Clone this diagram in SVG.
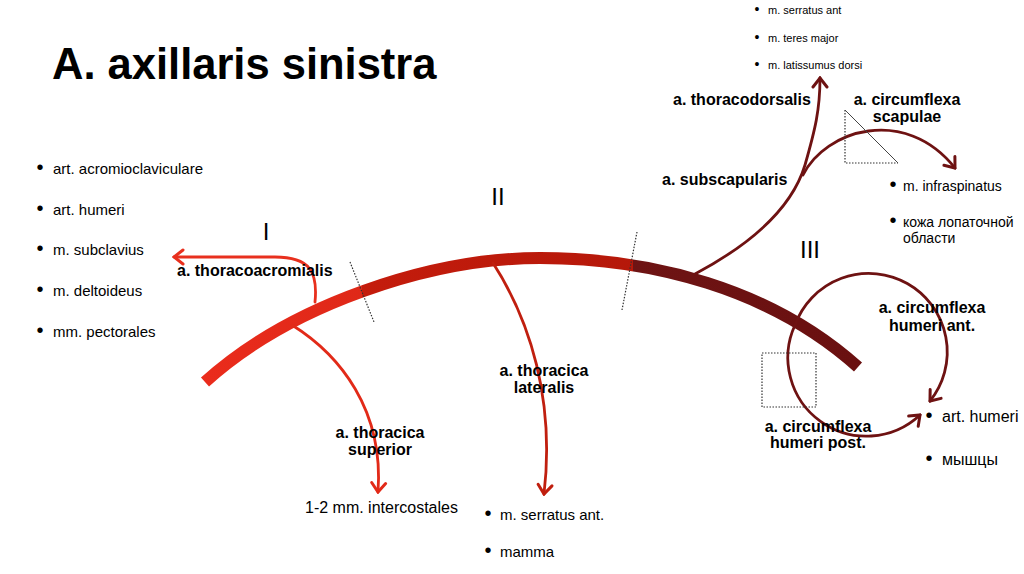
<svg xmlns="http://www.w3.org/2000/svg" width="1024" height="574" viewBox="0 0 1024 574">
<style>
  text { font-family: "Liberation Sans", Arial, Helvetica, sans-serif; fill: #000; }
  .title { font-size: 43.5px; font-weight: bold; }
  .lbl { font-size: 16px; font-weight: bold; text-anchor: middle; }
  .lbll { font-size: 16px; font-weight: bold; }
  .li { font-size: 15px; }
  .li16 { font-size: 16px; }
  .li14 { font-size: 14px; }
  .li11 { font-size: 11px; }
  .bu { font-size: 20px; text-anchor: middle; }
  .bu11 { font-size: 14px; text-anchor: middle; }
  .num { font-size: 24px; text-anchor: middle; }
  .br { fill: none; stroke-width: 2.8; stroke-linecap: round; }
  .red1 { stroke: #e8301e; }
  .red2 { stroke: #e22a18; }
  .red3 { stroke: #c01f0f; }
  .mar { stroke: #6e1212; }
  .div { fill: none; stroke: #333; stroke-width: 1.2; stroke-dasharray: 1.5 1.5; }
</style>
<defs>
  <linearGradient id="artGrad" gradientUnits="userSpaceOnUse" x1="205" y1="0" x2="858" y2="0">
    <stop offset="0" stop-color="#ea2c1c"/>
    <stop offset="0.24" stop-color="#df2818"/>
    <stop offset="0.241" stop-color="#c41c0c"/>
    <stop offset="0.655" stop-color="#b5180a"/>
    <stop offset="0.656" stop-color="#6e1414"/>
    <stop offset="1" stop-color="#6a1010"/>
  </linearGradient>
  <marker id="ahRed1" markerUnits="userSpaceOnUse" viewBox="-12 -10 14 20" refX="0" refY="0" markerWidth="14" markerHeight="20" orient="auto">
    <path d="M-9,-7 L0,0 L-9,7" fill="none" stroke="#e8301e" stroke-width="3" stroke-linecap="round"/>
  </marker>
  <marker id="ahRed2" markerUnits="userSpaceOnUse" viewBox="-12 -10 14 20" refX="0" refY="0" markerWidth="14" markerHeight="20" orient="auto">
    <path d="M-9,-7 L0,0 L-9,7" fill="none" stroke="#e22a18" stroke-width="3" stroke-linecap="round"/>
  </marker>
  <marker id="ahRed3" markerUnits="userSpaceOnUse" viewBox="-12 -10 14 20" refX="0" refY="0" markerWidth="14" markerHeight="20" orient="auto">
    <path d="M-9,-7 L0,0 L-9,7" fill="none" stroke="#c01f0f" stroke-width="3" stroke-linecap="round"/>
  </marker>
  <marker id="ahMar" markerUnits="userSpaceOnUse" viewBox="-12 -10 14 20" refX="0" refY="0" markerWidth="14" markerHeight="20" orient="auto">
    <path d="M-9,-7 L0,0 L-9,7" fill="none" stroke="#6e1212" stroke-width="3" stroke-linecap="round"/>
  </marker>
</defs>
<rect width="1024" height="574" fill="#fff"/>

<text class="title" x="52" y="79">A. axillaris sinistra</text>

<g id="connectors">
  <path id="main-artery" d="M205,382 C290,305 430,258 540,258 C650,258 770,288 858,367" fill="none" stroke="url(#artGrad)" stroke-width="12"/>
  <path class="br red1" d="M315,302 C318,272 310,257 275,257 L174,257" marker-end="url(#ahRed1)"/>
  <path class="br red2" d="M292,325 C340,355 384,410 378,492" marker-end="url(#ahRed2)"/>
  <path class="br red3" d="M493,263 C530,320 555,400 544,494" marker-end="url(#ahRed3)"/>
  <path class="br mar" d="M695,274 C740,250 790,215 805,165 C815,130 820,110 820,78" marker-end="url(#ahMar)"/>
  <path class="br mar" d="M803,175 C825,130 905,105 955,168" marker-end="url(#ahMar)"/>
  <path class="br mar" d="M795,325 A78.5,78.5 0 1 1 930,401" marker-end="url(#ahMar)"/>
  <path class="br mar" d="M795,325 A78.5,78.5 0 0 0 920,415" marker-end="url(#ahMar)"/>
</g>

<g id="dividers">
  <line class="div" x1="350" y1="262" x2="374" y2="322"/>
  <line class="div" x1="637" y1="232" x2="622" y2="310"/>
  <path class="div" d="M845,110 L845,163 L898,163"/>
  <line x1="845" y1="110" x2="898" y2="163" stroke="#444" stroke-width="1"/>
  <rect class="div" x="762" y="353" width="54" height="54"/>
</g>

<g id="section-numbers">
  <text class="num" x="266" y="240">I</text>
  <text class="num" x="498" y="205">II</text>
  <text class="num" x="810" y="258">III</text>
</g>

<g id="node-thoracoacromialis">
  <text class="lbll" x="177" y="276">a. thoracoacromialis</text>
  <text class="bu" x="40" y="174">•</text><text class="li" x="53" y="174">art. acromioclaviculare</text>
  <text class="bu" x="40" y="215">•</text><text class="li" x="53" y="215">art. humeri</text>
  <text class="bu" x="40" y="255">•</text><text class="li" x="53" y="255">m. subclavius</text>
  <text class="bu" x="40" y="296">•</text><text class="li" x="53" y="296">m. deltoideus</text>
  <text class="bu" x="40" y="337">•</text><text class="li" x="53" y="337">mm. pectorales</text>
</g>

<g id="node-thoracica-superior">
  <text class="lbl" x="380" y="438">a. thoracica</text>
  <text class="lbl" x="380" y="455">superior</text>
  <text class="li16" x="305" y="513">1-2 mm. intercostales</text>
</g>

<g id="node-thoracica-lateralis">
  <text class="lbl" x="544" y="376">a. thoracica</text>
  <text class="lbl" x="544" y="393">lateralis</text>
  <text class="bu" x="488" y="520">•</text><text class="li" x="500" y="520">m. serratus ant.</text>
  <text class="bu" x="488" y="557">•</text><text class="li" x="500" y="557">mamma</text>
</g>

<g id="node-subscapularis">
  <text class="lbll" x="662" y="185">a. subscapularis</text>
</g>

<g id="node-thoracodorsalis">
  <text class="lbll" x="673" y="105">a. thoracodorsalis</text>
  <text class="bu11" x="757" y="14">•</text><text class="li11" x="768" y="14">m. serratus ant</text>
  <text class="bu11" x="757" y="42">•</text><text class="li11" x="768" y="42">m. teres major</text>
  <text class="bu11" x="757" y="69">•</text><text class="li11" x="768" y="69">m. latissumus dorsi</text>
</g>

<g id="node-circumflexa-scapulae">
  <text class="lbl" x="907" y="105">a. circumflexa</text>
  <text class="lbl" x="907" y="122">scapulae</text>
  <text class="bu" x="893" y="191">•</text><text class="li14" x="903" y="191">m. infraspinatus</text>
  <text class="bu" x="893" y="227">•</text><text class="li14" x="903" y="227">кожа лопаточной</text>
  <text class="li14" x="903" y="243">области</text>
</g>

<g id="node-circumflexa-humeri-ant">
  <text class="lbl" x="932" y="313">a. circumflexa</text>
  <text class="lbl" x="932" y="331">humeri ant.</text>
</g>

<g id="node-circumflexa-humeri-post">
  <text class="lbl" x="818" y="432">a. circumflexa</text>
  <text class="lbl" x="818" y="448">humeri post.</text>
</g>

<g id="node-humeri-targets">
  <text class="bu" x="929" y="422">•</text><text class="li16" x="942" y="422">art. humeri</text>
  <text class="bu" x="929" y="465">•</text><text class="li16" x="942" y="465">мышцы</text>
</g>
</svg>
